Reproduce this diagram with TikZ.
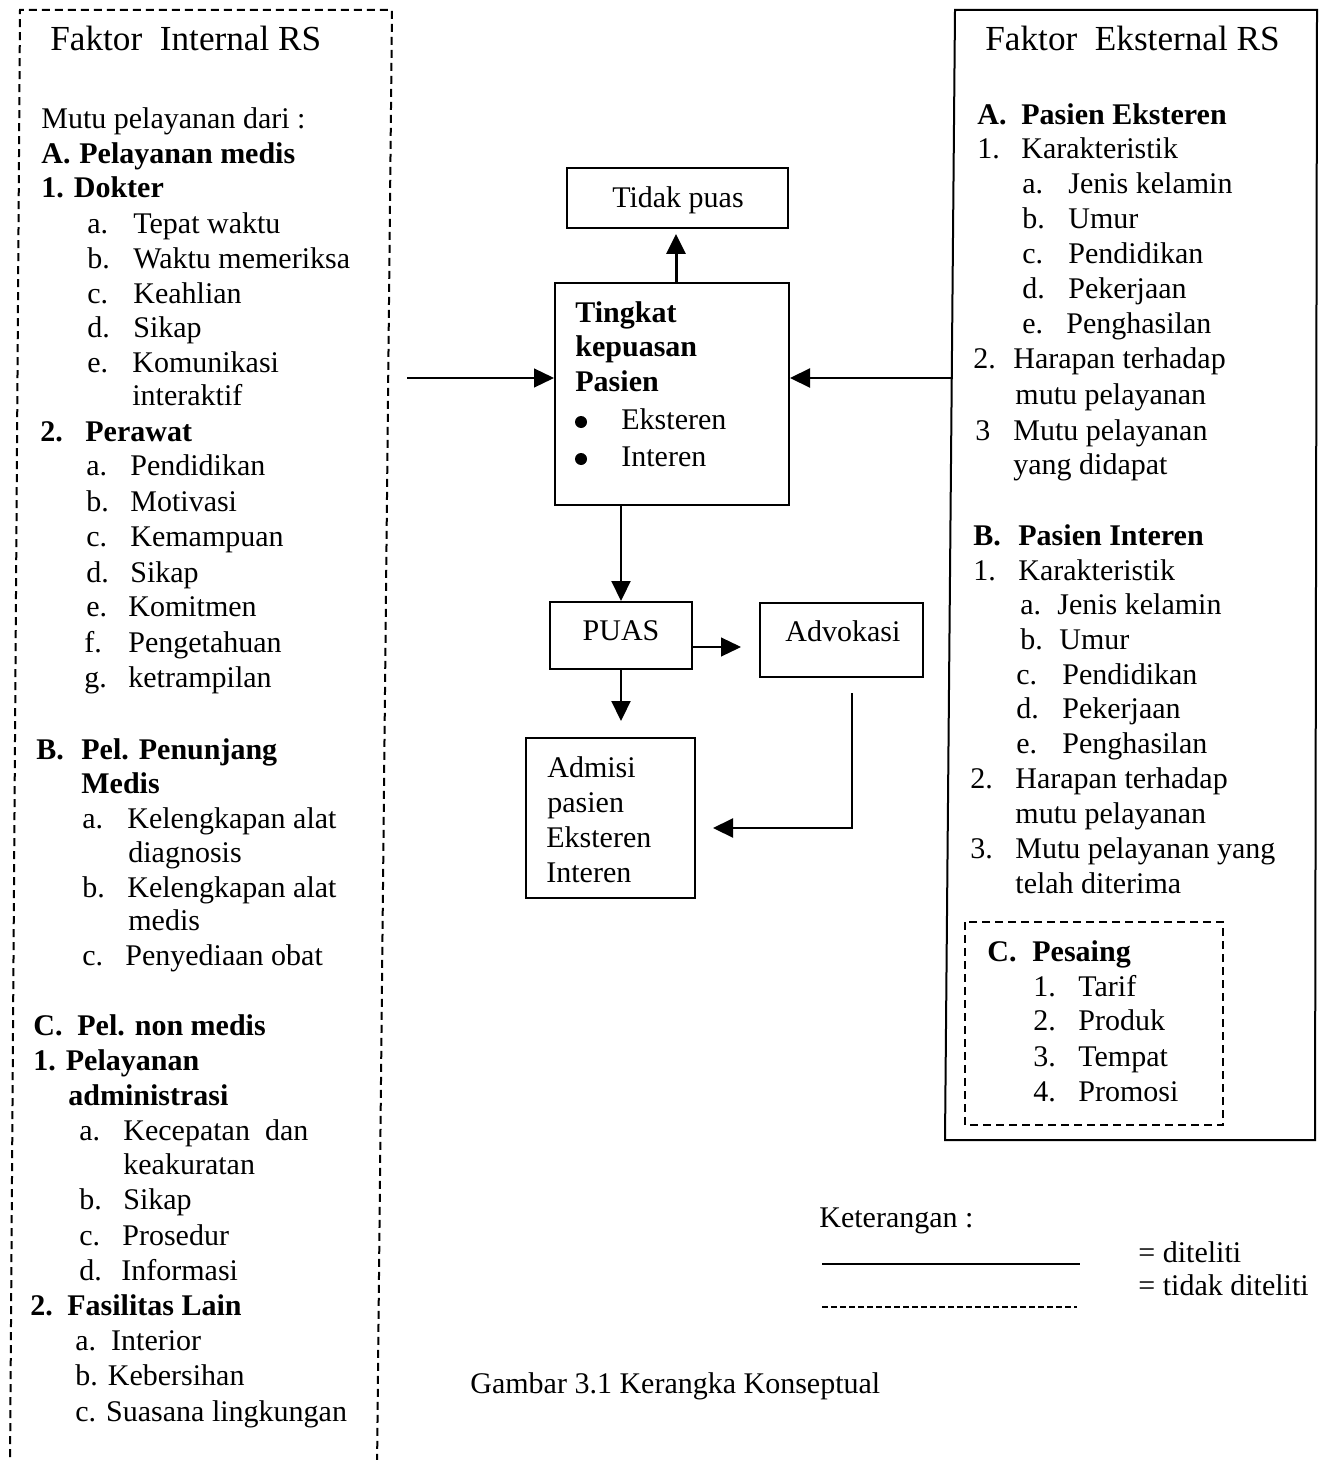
\documentclass[tikz,border=0pt]{standalone}
\usepackage{fontspec}
\setmainfont{Liberation Serif}
\usetikzlibrary{arrows.meta}
\begin{document}
\begin{tikzpicture}[x=0.5pt,y=-0.5pt,
  txt/.style={inner sep=0pt,anchor=base west,font=\fontsize{15}{18}\selectfont},
  bt/.style={inner sep=0pt,anchor=base west,font=\fontsize{15}{18}\selectfont\bfseries},
  ttl/.style={inner sep=0pt,anchor=base west,font=\fontsize{17.6}{20}\selectfont},
  boxr/.style={draw,line width=1pt,inner sep=0pt,rectangle},
  dashbox/.style={line width=1pt,dash pattern=on 4pt off 2.5pt},
  dot/.style={circle,fill,inner sep=0pt,minimum size=6pt},
  arr/.style={-{Triangle[length=10pt,width=9.5pt]},line width=1.1pt},
  arrthin/.style={-{Triangle[length=10pt,width=9.5pt]},line width=0.6pt}]
\useasboundingbox (0,0) rectangle (1319,1460);
\fill[white] (0,0) rectangle (1319,1460);

% ---------- left dashed box ----------
\draw[dashbox] (10,1470) -- (20,10) -- (392,10) -- (377,1470);
\node[ttl] (T1) at (50,51) {Faktor~~Internal RS};
\node[txt] (L1) at (41,129) {Mutu pelayanan dari :};
\node[bt] (L2a) at (41,164) {A.};
\node[bt] (L2b) at (79,164) {Pelayanan medis};
\node[bt] (L3) at (41,198) {1. Dokter};
\node[txt] (L4a) at (87,234) {a.}; \node[txt] (L4b) at (133,234) {Tepat waktu};
\node[txt] (L5a) at (87,269) {b.}; \node[txt] (L5b) at (133,269) {Waktu memeriksa};
\node[txt] (L6a) at (87,304) {c.}; \node[txt] (L6b) at (133,304) {Keahlian};
\node[txt] (L7a) at (87,337) {d.}; \node[txt] (L7b) at (133,337) {Sikap};
\node[txt] (L8a) at (87,372) {e.}; \node[txt] (L8b) at (132,372) {Komunikasi};
\node[txt] (L9) at (132,405) {interaktif};
\node[bt] (L10a) at (40,441) {2.}; \node[bt] (L10b) at (85,441) {Perawat};
\node[txt] (L11a) at (86,475) {a.}; \node[txt] (L11b) at (130,475) {Pendidikan};
\node[txt] (L12a) at (86,511) {b.}; \node[txt] (L12b) at (130,511) {Motivasi};
\node[txt] (L13a) at (86,546) {c.}; \node[txt] (L13b) at (130,546) {Kemampuan};
\node[txt] (L14a) at (86,582) {d.}; \node[txt] (L14b) at (130,582) {Sikap};
\node[txt] (L15a) at (86,616) {e.}; \node[txt] (L15b) at (128,616) {Komitmen};
\node[txt] (L16a) at (84,652) {f.}; \node[txt] (L16b) at (128,652) {Pengetahuan};
\node[txt] (L17a) at (84,687) {g.}; \node[txt] (L17b) at (128,687) {ketrampilan};
\node[bt] (L18a) at (36,759) {B.}; \node[bt] (L18b) at (81,759) {Pel. Penunjang};
\node[bt] (L19) at (81,793) {Medis};
\node[txt] (L20a) at (82,828) {a.}; \node[txt] (L20b) at (127,828) {Kelengkapan alat};
\node[txt] (L21) at (128,862) {diagnosis};
\node[txt] (L22a) at (82,897) {b.}; \node[txt] (L22b) at (127,897) {Kelengkapan alat};
\node[txt] (L23) at (128,930) {medis};
\node[txt] (L24a) at (82,965) {c.}; \node[txt] (L24b) at (125,965) {Penyediaan obat};
\node[bt] (L25a) at (33,1035) {C.}; \node[bt] (L25b) at (77,1035) {Pel. non medis};
\node[bt] (L26) at (33,1070) {1. Pelayanan};
\node[bt] (L27) at (68,1105) {administrasi};
\node[txt] (L28a) at (79,1140) {a.}; \node[txt] (L28b) at (123,1140) {Kecepatan~~dan};
\node[txt] (L29) at (123,1174) {keakuratan};
\node[txt] (L30a) at (79,1209) {b.}; \node[txt] (L30b) at (123,1209) {Sikap};
\node[txt] (L31a) at (79,1245) {c.}; \node[txt] (L31b) at (122,1245) {Prosedur};
\node[txt] (L32a) at (79,1280) {d.}; \node[txt] (L32b) at (121,1280) {Informasi};
\node[bt] (L33a) at (30,1315) {2.}; \node[bt] (L33b) at (67,1315) {Fasilitas Lain};
\node[txt] (L34) at (75,1350) {a.~~Interior};
\node[txt] (L35) at (75,1385) {b. Kebersihan};
\node[txt] (L36) at (75,1421) {c. Suasana lingkungan};

% ---------- right solid box ----------
\draw[line width=1pt] (955,10) -- (1317,10) -- (1315,1140) -- (945,1140) -- cycle;
\node[ttl] (T2) at (985,51) {Faktor~~Eksternal RS};
\node[bt] (R1a) at (977,125) {A.}; \node[bt] (R1b) at (1021,125) {Pasien Eksteren};
\node[txt] (R2a) at (977,159) {1.}; \node[txt] (R2b) at (1021,159) {Karakteristik};
\node[txt] (R3a) at (1022,194) {a.}; \node[txt] (R3b) at (1068,194) {Jenis kelamin};
\node[txt] (R4a) at (1022,229) {b.}; \node[txt] (R4b) at (1068,229) {Umur};
\node[txt] (R5a) at (1022,264) {c.}; \node[txt] (R5b) at (1068,264) {Pendidikan};
\node[txt] (R6a) at (1022,299) {d.}; \node[txt] (R6b) at (1068,299) {Pekerjaan};
\node[txt] (R7a) at (1022,334) {e.}; \node[txt] (R7b) at (1066,334) {Penghasilan};
\node[txt] (R8a) at (973,369) {2.}; \node[txt] (R8b) at (1013,369) {Harapan terhadap};
\node[txt] (R9) at (1015,404) {mutu pelayanan};
\node[txt] (R10a) at (975,440) {3}; \node[txt] (R10b) at (1013,440) {Mutu pelayanan};
\node[txt] (R11) at (1013,474) {yang didapat};
\node[bt] (R12a) at (973,545) {B.}; \node[bt] (R12b) at (1018,545) {Pasien Interen};
\node[txt] (R13a) at (973,580) {1.}; \node[txt] (R13b) at (1018,580) {Karakteristik};
\node[txt] (R14a) at (1020,614) {a.}; \node[txt] (R14b) at (1057,614) {Jenis kelamin};
\node[txt] (R15a) at (1020,649) {b.}; \node[txt] (R15b) at (1059,649) {Umur};
\node[txt] (R16a) at (1016,684) {c.}; \node[txt] (R16b) at (1062,684) {Pendidikan};
\node[txt] (R17a) at (1016,718) {d.}; \node[txt] (R17b) at (1062,718) {Pekerjaan};
\node[txt] (R18a) at (1016,753) {e.}; \node[txt] (R18b) at (1062,753) {Penghasilan};
\node[txt] (R19a) at (970,788) {2.}; \node[txt] (R19b) at (1015,788) {Harapan terhadap};
\node[txt] (R20) at (1015,823) {mutu pelayanan};
\node[txt] (R21a) at (970,858) {3.}; \node[txt] (R21b) at (1015,858) {Mutu pelayanan yang};
\node[txt] (R22) at (1015,893) {telah diterima};
% inner dashed box C
\draw[dashbox] (965,922) rectangle (1223,1125);
\node[bt] (R23a) at (987,961) {C.}; \node[bt] (R23b) at (1032,961) {Pesaing};
\node[txt] (R24a) at (1033,996) {1.}; \node[txt] (R24b) at (1078,996) {Tarif};
\node[txt] (R25a) at (1033,1030) {2.}; \node[txt] (R25b) at (1078,1030) {Produk};
\node[txt] (R26a) at (1033,1066) {3.}; \node[txt] (R26b) at (1078,1066) {Tempat};
\node[txt] (R27a) at (1033,1101) {4.}; \node[txt] (R27b) at (1078,1101) {Promosi};

% ---------- centre boxes ----------
\node[boxr,minimum width=110.5pt,minimum height=30pt] (tp) at (677.5,198) {};
\node[txt,anchor=base] (tpt) at (678,208) {Tidak puas};
\node[boxr,minimum width=117pt,minimum height=111pt] (tk) at (672,394) {};
\node[bt] (tk1) at (575,322) {Tingkat};
\node[bt] (tk2) at (575,357) {kepuasan};
\node[bt] (tk3) at (575,392) {Pasien};
\node[dot] (tk4a) at (581,422) {}; \node[txt] (tk4b) at (621,429) {Eksteren};
\node[dot] (tk5a) at (581,459) {}; \node[txt] (tk5b) at (621,466) {Interen};
\node[boxr,minimum width=71pt,minimum height=33.5pt] (puas) at (621,635.5) {};
\node[txt,anchor=base] (puast) at (621,640) {PUAS};
\node[boxr,minimum width=81.5pt,minimum height=37pt] (adv) at (841.5,640) {};
\node[txt] (advt) at (785,641) {Advokasi};
\node[boxr,minimum width=84.5pt,minimum height=80pt] (adm) at (610.5,818) {};
\node[txt] (adm1) at (547,777) {Admisi};
\node[txt] (adm2) at (547,812) {pasien};
\node[txt] (adm3) at (546,847) {Eksteren};
\node[txt] (adm4) at (546,882) {Interen};

% ---------- connectors ----------
\coordinate (lin) at (407,378);
\coordinate (ein) at (953,378);
\coordinate (advs) at (852,693);
\coordinate (admin) at (713,828);
\coordinate (pa) at (692,647);
\coordinate (paend) at (741,647);
\draw[arr,line width=1.5pt] (tk.north -| 676,0) -- ([yshift=-2.5pt]tp.south -| 676,0);
\draw[arrthin] (lin) -- (lin -| tk.west);
\draw[arr] (ein) -- (ein -| tk.east);
\draw[arr] (tk.south -| puas.north) -- (puas.north);
\draw[arrthin] (pa) -- (paend);
\draw[arr] (puas.south) -- ([yshift=8pt]adm.north -| puas.south);
\draw[arr] (advs) |- (admin);

% ---------- legend ----------
\node[txt] (ket) at (819,1227) {Keterangan :};
\coordinate (s1) at (822,1264); \coordinate (s2) at (1080,1264);
\coordinate (d1) at (822,1307); \coordinate (d2) at (1077,1307);
\draw[line width=1pt] (s1) -- (s2);
\draw[line width=0.8pt,dash pattern=on 3pt off 1.5pt] (d1) -- (d2);
\node[txt] (k1) at (1138,1262) {= diteliti};
\node[txt] (k2) at (1138,1295) {= tidak diteliti};
\node[txt] (cap) at (470,1393) {Gambar 3.1 Kerangka Konseptual};
\end{tikzpicture}
\end{document}
